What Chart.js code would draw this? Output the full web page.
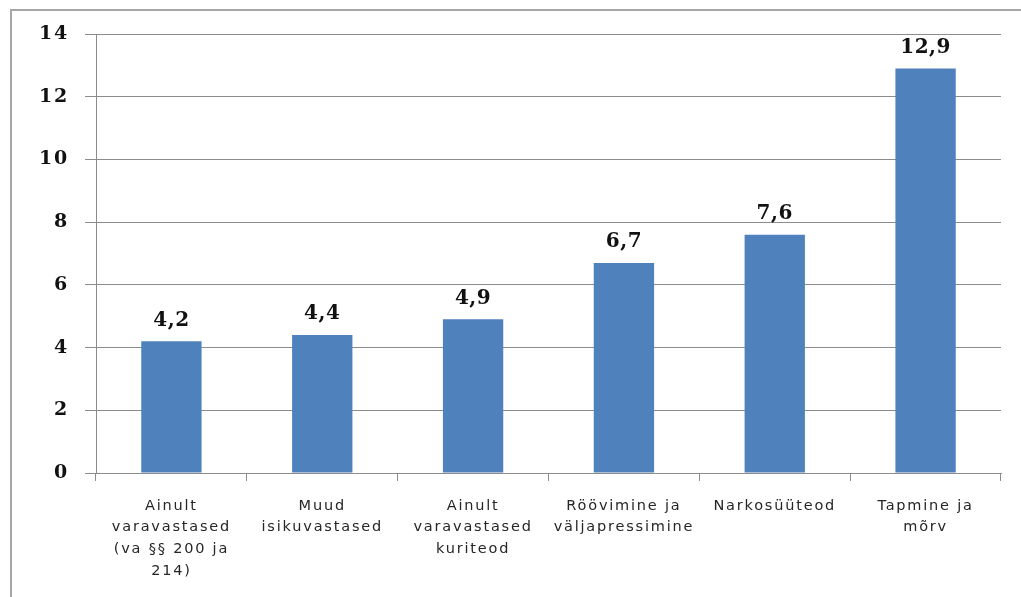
<!DOCTYPE html>
<html>
<head>
<meta charset="utf-8">
<script src="https://cdn.jsdelivr.net/npm/chart.js@4/dist/chart.umd.min.js"></script>
<style>
  html, body { margin: 0; padding: 0; background: #fff; overflow: hidden; }
  #wrap { position: relative; width: 1021px; height: 597px; }
  #frame {
    position: absolute; left: 10px; top: 9px; width: 1100px; height: 700px;
    border-left: 2px solid #a6a6a6; border-top: 2px solid #a6a6a6;
  }
  canvas { position: absolute; left: 0; top: 0; }
</style>
</head>
<body>
<div id="wrap">
  <div id="frame"></div>
  <canvas id="chart" width="1021" height="597"></canvas>
</div>
<script>
// categories (multi-line labels as in the picture)
const categories = [
  ['Ainult', 'varavastased', '(va §§ 200 ja', '214)'],
  ['Muud', 'isikuvastased'],
  ['Ainult', 'varavastased', 'kuriteod'],
  ['Röövimine ja', 'väljapressimine'],
  ['Narkosüüteod'],
  ['Tapmine ja', 'mõrv']
];
const values = [4.2, 4.4, 4.9, 6.7, 7.6, 12.9];
const yTicks = [0, 2, 4, 6, 8, 10, 12, 14];

const BAR_COLOR = '#4f81bd';
const GRID = '#8c8c8c';

// letter spacing for the spaced-out office look
const spacing = {
  id: 'spacing',
  beforeLayout(chart) { chart.ctx.letterSpacing = '1.8px'; },
  beforeDraw(chart) { chart.ctx.letterSpacing = '1.8px'; }
};

// value labels above bars, decimal comma
const valueLabels = {
  id: 'valueLabels',
  afterDatasetsDraw(chart) {
    const ctx = chart.ctx;
    const meta = chart.getDatasetMeta(0);
    ctx.save();
    ctx.letterSpacing = '0.5px';
    ctx.font = 'bold 20px "DejaVu Serif"';
    ctx.fillStyle = '#111';
    ctx.textAlign = 'center';
    ctx.textBaseline = 'middle';
    meta.data.forEach((bar, i) => {
      ctx.fillText(values[i].toFixed(1).replace('.', ','), bar.x, bar.y - 21);
    });
    ctx.restore();
  }
};

new Chart(document.getElementById('chart'), {
  type: 'bar',
  data: {
    labels: categories,
    datasets: [{
      data: values,
      backgroundColor: BAR_COLOR,
      borderWidth: 0,
      barPercentage: 0.4,
      categoryPercentage: 1
    }]
  },
  options: {
    responsive: false,
    animation: false,
    devicePixelRatio: 1,
    layout: { padding: { top: 34, right: 20, left: 0, bottom: 0 } },
    plugins: { legend: { display: false }, tooltip: { enabled: false } },
    scales: {
      x: {
        offset: true,
        grid: {
          offset: true,
          drawOnChartArea: false,
          color: GRID,
          tickLength: 8
        },
        border: { color: GRID, width: 1 },
        ticks: {
          maxRotation: 0,
          autoSkip: false,
          padding: 14,
          color: '#262626',
          font: { family: '"DejaVu Sans"', size: 14.5, lineHeight: 1.5 }
        },
        afterFit(scale) { scale.height = 124; }
      },
      y: {
        min: 0,
        max: 14,
        afterBuildTicks(scale) { scale.ticks = yTicks.map(v => ({ value: v })); },
        grid: { color: GRID, tickLength: 11 },
        border: { color: GRID, width: 1 },
        ticks: {
          padding: 16,
          color: '#111',
          font: { family: '"DejaVu Serif"', size: 19, weight: 'bold' }
        },
        afterFit(scale) { scale.width = 96; }
      }
    }
  },
  plugins: [spacing, valueLabels]
});
</script>
</body>
</html>
